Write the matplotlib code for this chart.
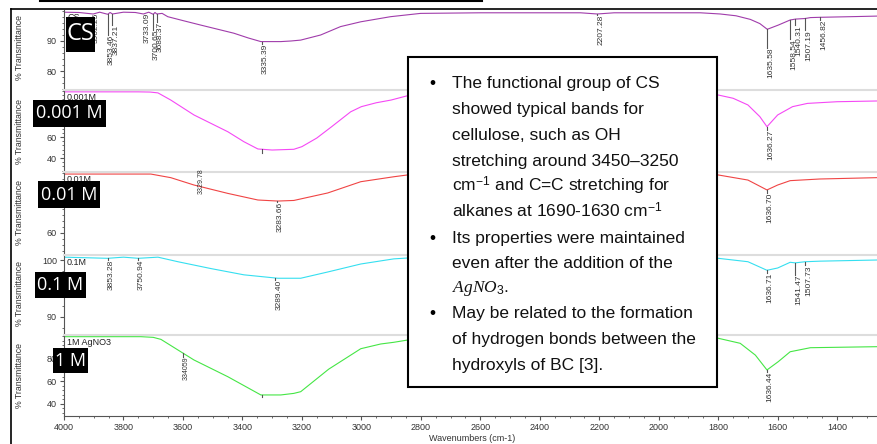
import numpy as np
import matplotlib
matplotlib.use("Agg")
import matplotlib.pyplot as plt
from matplotlib.patches import Rectangle
from matplotlib.lines import Line2D
from matplotlib.ticker import MultipleLocator, FixedLocator

plt.rcParams['font.family'] = ['Liberation Sans', 'DejaVu Sans']
plt.rcParams['mathtext.fontset'] = 'custom'
plt.rcParams['mathtext.rm'] = 'Liberation Sans'
plt.rcParams['mathtext.it'] = 'Liberation Serif:italic'

W, H = 877, 444

# ---- spectra (wavenumber, %T) ----
cs_wn = [4000, 3950, 3902, 3880, 3853, 3845, 3837, 3800, 3760, 3733, 3715, 3700, 3694, 3688,
         3670, 3651, 3600, 3540, 3429, 3380, 3338, 3271, 3237, 3204, 3137, 3070, 3002, 2902,
         2801, 2599, 2263, 2207, 2150, 1860, 1793, 1740, 1692, 1660, 1635, 1598, 1558, 1540,
         1507, 1490, 1456, 1356, 1266]
cs_t = [99.6, 99.5, 99.0, 99.6, 98.9, 99.5, 99.0, 99.6, 99.5, 99.0, 99.6, 98.9, 99.5, 99.0,
        99.2, 98.1, 96.8, 95.3, 92.6, 91.0, 89.8, 89.8, 90.0, 90.3, 92.0, 94.8, 96.4, 98.1,
        99.2, 99.4, 99.4, 99.0, 99.4, 99.4, 99.0, 98.4, 97.2, 95.8, 93.9, 95.3, 97.0, 97.3,
        97.5, 97.8, 97.9, 98.1, 98.3]

m0001_wn = [4000, 3800, 3750, 3710, 3684, 3641, 3563, 3449, 3395, 3348, 3300, 3227, 3200,
            3150, 3100, 3036, 3000, 2950, 2900, 2845, 2700, 2000, 1800, 1750, 1700, 1660,
            1636, 1600, 1550, 1500, 1400, 1266]
m0001_t = [103.0, 103.0, 103.0, 102.8, 102.0, 95.2, 81.0, 65.0, 55.5, 48.6, 47.6, 48.3, 50.8,
           59.0, 69.8, 84.0, 88.9, 92.6, 95.2, 99.3, 100.0, 100.5, 100.0, 96.9, 90.5, 79.4,
           69.8, 81.0, 88.9, 92.0, 93.6, 94.3]

m001_wn = [4000, 3708, 3641, 3563, 3449, 3348, 3281, 3227, 3113, 3002, 2891, 2845, 2500,
           1800, 1700, 1636, 1600, 1558, 1459, 1266]
m001_t = [99.3, 99.3, 96.9, 92.0, 86.4, 82.0, 81.3, 81.7, 86.7, 94.2, 97.5, 98.7, 99.0,
          98.7, 95.3, 88.7, 92.0, 94.9, 96.0, 96.9]

m01_wn = [4000, 3853, 3800, 3750, 3684, 3617, 3506, 3395, 3281, 3204, 3113, 3002, 2891, 2845,
          1800, 1700, 1636, 1600, 1558, 1541, 1507, 1457, 1266]
m01_t = [100.5, 100.3, 100.5, 100.3, 100.5, 99.7, 98.5, 97.4, 96.8, 96.8, 97.9, 99.3, 100.2,
         100.35, 100.3, 99.7, 98.2, 98.6, 99.6, 99.5, 99.7, 99.8, 100.0]

m1_wn = [4000, 3741, 3700, 3674, 3563, 3449, 3338, 3271, 3227, 3204, 3110, 3002, 2935, 2891,
         2845, 1800, 1726, 1675, 1636, 1598, 1558, 1490, 1266]
m1_t = [99.4, 99.4, 98.8, 97.0, 78.7, 63.8, 47.6, 47.6, 49.0, 50.5, 70.5, 88.7, 92.9, 94.4,
        96.4, 98.0, 93.5, 83.0, 69.8, 77.2, 86.0, 89.6, 90.5]

# ---- peak labels: (wavenumber, label, top of label in %T) ----
cs_peaks = [(3902.25, "3902.25", 99.3), (3853.46, "3853.46", 92.0), (3837.21, "3837.21", 95.3),
            (3733.09, "3733.09", 99.3), (3700.65, "3700.65", 93.7), (3688.37, "3688.37", 96.3),
            (3335.39, "3335.39", 89.0), (2207.28, "2207.28", 98.7), (1635.58, "1635.58", 87.7),
            (1558.54, "1558.54", 90.7), (1540.31, "1540.31", 95.3), (1507.19, "1507.19", 93.7),
            (1456.82, "1456.82", 97.0)]
m0001_peaks = [(3335.0, "", 45.0), (1636.27, "1636.27", 66.7)]
m001_peaks = [(3550.0, "3329.78", 103.3), (3283.66, "3283.66", 80.9), (1636.70, "1636.70", 87.0)]
m01_peaks = [(3853.28, "3853.28", 100.0), (3750.94, "3750.94", 100.0), (3289.40, "3289.40", 96.5),
             (1636.71, "1636.71", 97.7), (1541.47, "1541.47", 97.4), (1507.73, "1507.73", 99.1)]
m1_peaks = [(3600.0, "334059", 81.6), (3335.0, "", 45.5), (1636.44, "1636.44", 68.3)]

names = ["CS", "0.001M", "0.01M", "0.1M", "1M AgNO3"]
tags = ["CS", "0.001 M", "0.01 M", "0.1 M", "1 M"]
series = [(cs_wn, cs_t, cs_peaks), (m0001_wn, m0001_t, m0001_peaks), (m001_wn, m001_t, m001_peaks),
          (m01_wn, m01_t, m01_peaks), (m1_wn, m1_t, m1_peaks)]

# ---- layout / style ----
colors = ['#a03cab', '#f548f5', '#f04444', '#35dff0', '#45e645']
panel_px = [(10, 90), (90, 172), (172, 255), (255, 335), (335, 416)]
ylims = [(73.67, 100.33), (26.67, 104.76), (45.33, 100.67), (86.84, 100.88), (28.89, 100.89)]
yticks = [[80, 90], [40, 60], [60], [90, 100], [40, 60, 80]]
yminor = [2, 4, 4, 2, 4]
tag_boxes = [(66, 17, 95, 52, 17), (33, 100, 106, 127, 13), (38, 181, 100, 208, 13),
             (35, 272, 86, 298, 13), (53, 348, 88, 373, 13)]
ylabel_y = [48, 131, 212, 294, 375]


def fx(x):
    return x / W


def fy(y):
    return 1 - y / H


fig = plt.figure(figsize=(W / 100, H / 100), dpi=100)

for i, (wn, t, peaks) in enumerate(series):
    top, bot = panel_px[i]
    ax = fig.add_axes([fx(64), fy(bot), fx(877) - fx(64), (bot - top) / H])
    ax.plot(wn, t, color=colors[i], lw=0.8)
    ax.set_xlim(4000, 1266)
    ax.set_ylim(*ylims[i])

    # peak markers
    for pw, lab, ptop in peaks:
        cur = np.interp(pw, wn[::-1], t[::-1])
        if cur > ptop:
            ax.plot([pw, pw], [cur, ptop], color='#555555', lw=0.8)
        if lab:
            fs = 5 if lab in ("3329.78", "334059") else 6
            ax.text(pw, ptop, lab, rotation=90, ha='left', va='top', fontsize=fs,
                    color='#333333', clip_on=False)

    ax.spines['right'].set_visible(False)
    if i == 0:
        ax.spines['top'].set_visible(False)
    else:
        ax.spines['top'].set_color('#dddddd')
        ax.spines['top'].set_linewidth(1.5)
    ax.spines['left'].set_color('#555555')
    ax.spines['bottom'].set_color('#555555')
    if i < 4:
        ax.spines['bottom'].set_visible(False)
        ax.tick_params(axis='x', which='both', bottom=False, labelbottom=False)
    else:
        ax.xaxis.set_major_locator(MultipleLocator(200))
        ax.xaxis.set_minor_locator(MultipleLocator(50))
        ax.tick_params(axis='x', which='major', labelsize=6.5, length=3, color='#555555',
                       labelcolor='#333333', pad=2)
        ax.tick_params(axis='x', which='minor', length=1.5, color='#555555')

    ax.yaxis.set_major_locator(FixedLocator(yticks[i]))
    ax.yaxis.set_minor_locator(MultipleLocator(yminor[i]))
    ax.tick_params(axis='y', which='major', labelsize=6.5, length=3, color='#555555',
                   labelcolor='#333333', pad=2)
    ax.tick_params(axis='y', which='minor', length=1.5, color='#555555')

    ax.text(fx(67), fy(top + 3), names[i], transform=fig.transFigure, fontsize=6.5,
            va='top', ha='left', color='#222222')
    fig.text(fx(20), fy(ylabel_y[i]), "% Transmittance", rotation=90, ha='center',
             va='center', fontsize=6.3, color='#333333')

# black concentration tags
for (x0, y0, x1, y1, fs), tag in zip(tag_boxes, tags):
    fig.add_artist(Rectangle((fx(x0), fy(y1)), fx(x1) - fx(x0), (y1 - y0) / H,
                             transform=fig.transFigure, fc='black', ec='none', zorder=10))
    fig.text(fx((x0 + x1) / 2), fy((y0 + y1) / 2), tag, color='white', fontsize=fs,
             family='Open Sans', ha='center', va='center', zorder=11)

fig.text(fx(472), fy(438), "Wavenumbers (cm-1)", ha='center', va='center', fontsize=6.5,
         color='#333333')

# outer frame and cut-off title rule
fig.add_artist(Line2D([fx(11), fx(11)], [fy(9), fy(444)], color='black', lw=1.2,
                      transform=fig.transFigure))
fig.add_artist(Line2D([fx(11), fx(877)], [fy(9), fy(9)], color='black', lw=1.2,
                      transform=fig.transFigure))
fig.add_artist(Line2D([fx(40), fx(482)], [fy(1), fy(1)], color='black', lw=1.5,
                      transform=fig.transFigure))

# text box
fig.add_artist(Rectangle((fx(408), fy(387)), fx(717) - fx(408), (387 - 57) / H,
                         transform=fig.transFigure, fc='white', ec='black', lw=1.5, zorder=10))
lines = [
    ("The functional group of CS", True, 88),
    ("showed typical bands for", False, 113.8),
    ("cellulose, such as OH", False, 139.7),
    ("stretching around 3450\u20133250", False, 165.5),
    ("cm$^{-1}$ and C=C stretching for", False, 191.3),
    ("alkanes at 1690-1630 cm$^{-1}$", False, 217.1),
    ("Its properties were maintained", True, 243),
    ("even after the addition of the", False, 267.5),
    ("$AgNO_3$.", False, 292),
    ("May be related to the formation", True, 318),
    ("of hydrogen bonds between the", False, 344),
    ("hydroxyls of BC [3].", False, 369.5),
]
for txt, bullet, yb in lines:
    if bullet:
        fig.text(fx(432), fy(yb), "\u2022", ha='center', va='baseline', fontsize=12.5,
                 zorder=11)
    fig.text(fx(452), fy(yb), txt, ha='left', va='baseline', fontsize=12.5, zorder=11,
             color='#111111')

fig.savefig("out.png", dpi=100)
